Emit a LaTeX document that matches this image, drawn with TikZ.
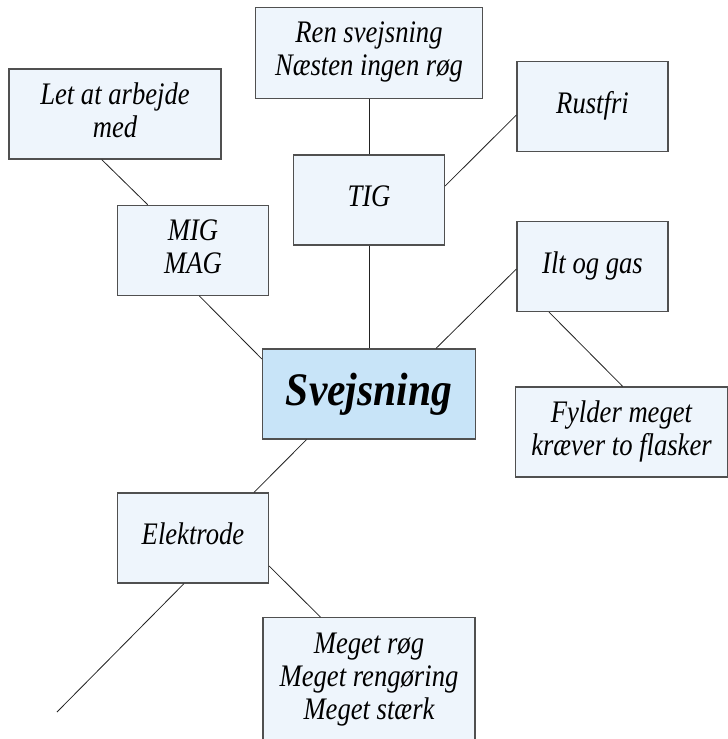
\documentclass[tikz,border=0pt]{standalone}
\usepackage{fontspec}
\setmainfont{Liberation Serif}
\usetikzlibrary{calc}
\definecolor{boxfill}{HTML}{EEF5FC}
\definecolor{mainfill}{HTML}{C8E4F8}
\definecolor{boxline}{HTML}{505050}
\definecolor{linkline}{HTML}{222222}
\newcommand\narrowtext[1]{\scalebox{0.85}[1]{\begin{tabular}{@{}c@{}}#1\end{tabular}}}
\begin{document}
\begin{tikzpicture}[x=0.75pt,y=-0.75pt,
  box/.style={draw=boxline, fill=boxfill, line width=0.9pt, inner sep=0pt, align=center,
    minimum width=113.25pt, minimum height=67.5pt,
    font=\fontsize{23.5pt}{24.75pt}\selectfont\itshape},
  widebox/.style={box, minimum width=159pt},
  mainbox/.style={box, fill=mainfill, minimum width=159.75pt,
    font=\fontsize{35pt}{40pt}\selectfont\bfseries\itshape},
  link/.style={draw=linkline, line width=0.6pt}]
\useasboundingbox (0,0) rectangle (728,739);

\node[widebox] (let) at (115,114) {\narrowtext{Let at arbejde\\med}};
\node[box, minimum width=170.25pt, minimum height=68.25pt] (ren) at (369,52.7) {\narrowtext{Ren svejsning\\Næsten ingen røg}};
\node[box] (rust) at (592.5,106.5) {\narrowtext{Rustfri}};
\node[box] (tig) at (369,200) {\narrowtext{TIG}};
\node[box] (mig) at (193,250.3) {\narrowtext{MIG\\MAG}};
\node[box] (ilt) at (592.5,266.5) {\narrowtext{Ilt og gas}};
\node[mainbox] (svej) at (369,394) {\scalebox{0.89}[1]{Svejsning}};
\node[widebox] (fyld) at (621.5,432) {\narrowtext{Fylder meget\\kræver to flasker}};
\node[box] (elek) at (193,538) {\narrowtext{Elektrode}};
\node[widebox, minimum height=93pt] (meget) at (369,679.7) {\narrowtext{Meget røg\\Meget rengøring\\Meget stærk}};
\coordinate (free) at (57,712);

\draw[link] ($(let.south)+(-13.3,0)$) -- ($(mig.north)+(-45.3,0)$);
\draw[link] ($(mig.south)+(6.3,0)$) -- ($(svej.west)+(0,-35)$);
\draw[link] (ren.south) -- (tig.north);
\draw[link] (tig.south) -- (svej.north);
\draw[link] ($(tig.east)+(0,-14)$) -- ($(rust.west)+(0,8.5)$);
\draw[link] ($(svej.north)+(67,0)$) -- ($(ilt.west)+(0,2.5)$);
\draw[link] ($(ilt.south)+(-43.5,0)$) -- ($(fyld.north)+(1.2,0)$);
\draw[link] ($(svej.south)+(-62.5,0)$) -- ($(elek.north)+(61,0)$);
\draw[link] ($(elek.east)+(0,28)$) -- ($(meget.north)+(-48.5,0)$);
\draw[link] ($(elek.south)+(-9,0)$) -- (free);
\end{tikzpicture}
\end{document}
